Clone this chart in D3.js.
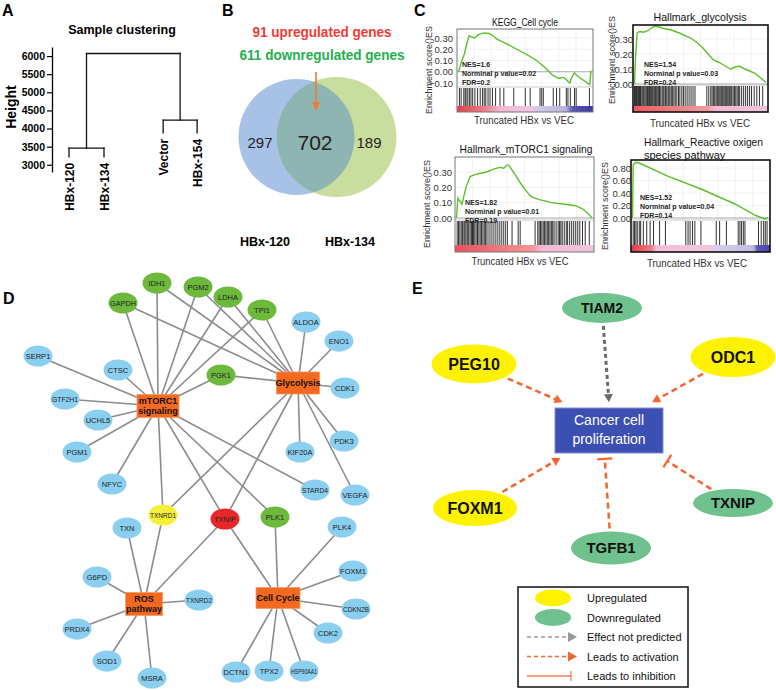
<!DOCTYPE html>
<html>
<head>
<meta charset="utf-8">
<script src="https://cdn.jsdelivr.net/npm/d3@7"></script>
<style>
body { margin: 0; background: #fff; }
svg { display: block; font-family: Arial, "Liberation Sans", sans-serif; }
</style>
</head>
<body>
<script>
var width = 776,
    height = 690;

// ---------- data ----------
// A : dendrogram
var leaves = ["HBx-120", "HBx-134", "Vector", "HBx-154"];
var leafPos = [0, 1, 2.69, 3.66];
var leafEnd = [3220, 3220, 3880, 3880];
var mergeLeft = 3460, mergeRight = 4230, mergeRoot = 6070;
var heightTicks = [3000, 3500, 4000, 4500, 5000, 5500, 6000];

// B : venn
var vennSets = ["HBx-120", "HBx-134"];
var vennCounts = [297, 702, 189];
var vennNotes = ["91 upregulated genes", "611 downregulated genes"];

// C : GSEA running enrichment score [rank fraction, ES]
var cellCycleES = [[0, 0], [0.02, 0.08], [0.045, 0.16], [0.065, 0.26], [0.08, 0.32], [0.1, 0.31], [0.12, 0.3], [0.15, 0.33], [0.19, 0.345], [0.23, 0.34], [0.26, 0.32], [0.29, 0.29], [0.36, 0.25], [0.44, 0.2], [0.52, 0.15], [0.59, 0.1], [0.65, 0.04], [0.71, -0.03], [0.74, -0.05], [0.76, -0.06], [0.78, -0.05], [0.8, -0.055], [0.84, -0.1], [0.855, -0.05], [0.875, -0.01], [0.9, -0.04], [0.99, -0.115], [1, 0.01]];
var glycolysisES = [[0, 0], [0.008, 0.18], [0.02, 0.34], [0.04, 0.35], [0.07, 0.345], [0.1, 0.355], [0.15, 0.385], [0.19, 0.38], [0.22, 0.37], [0.28, 0.36], [0.34, 0.34], [0.42, 0.31], [0.47, 0.28], [0.52, 0.24], [0.56, 0.2], [0.6, 0.16], [0.64, 0.145], [0.68, 0.125], [0.73, 0.1], [0.77, 0.115], [0.8, 0.118], [0.84, 0.1], [0.88, 0.085], [0.92, 0.07], [0.96, 0.04], [1, 0.01]];
var mtorES = [[0, 0], [0.01, 0.13], [0.04, 0.09], [0.07, 0.2], [0.1, 0.27], [0.14, 0.285], [0.17, 0.29], [0.22, 0.3], [0.28, 0.32], [0.32, 0.33], [0.35, 0.325], [0.37, 0.345], [0.385, 0.345], [0.42, 0.3], [0.47, 0.23], [0.52, 0.17], [0.55, 0.14], [0.61, 0.12], [0.66, 0.11], [0.7, 0.1], [0.8, 0.09], [0.88, 0.08], [0.93, 0.06], [0.97, 0.03], [1, 0]];
var rosES = [[0, 0], [0.005, 0.85], [0.025, 0.89], [0.05, 0.88], [0.26, 0.67], [0.51, 0.46], [0.76, 0.22], [0.91, 0.04], [0.98, -0.015], [1, 0.01]];

// hit positions (rank fraction)
var cellCycleHits = [0.007, 0.02, 0.04, 0.05, 0.057, 0.07, 0.082, 0.094, 0.107, 0.124, 0.144, 0.164, 0.181, 0.194, 0.206, 0.223, 0.238, 0.256, 0.28, 0.313, 0.342, 0.417, 0.504, 0.541, 0.615, 0.628, 0.64, 0.715, 0.74, 0.764, 0.814, 0.826, 0.844, 0.876, 0.888, 0.988];
var glycolysisHits = [0, 0.008, 0.015, 0.022, 0.03, 0.038, 0.045, 0.05, 0.058, 0.066, 0.072, 0.08, 0.088, 0.095, 0.1, 0.108, 0.115, 0.12, 0.128, 0.135, 0.142, 0.15, 0.158, 0.163, 0.17, 0.178, 0.185, 0.19, 0.2, 0.21, 0.218, 0.225, 0.235, 0.245, 0.255, 0.262, 0.27, 0.28, 0.29, 0.3, 0.31, 0.322, 0.335, 0.345, 0.36, 0.372, 0.385, 0.4, 0.415, 0.43, 0.445, 0.46, 0.55, 0.565, 0.58, 0.59, 0.6, 0.61, 0.62, 0.628, 0.635, 0.642, 0.65, 0.658, 0.665, 0.672, 0.68, 0.688, 0.695, 0.702, 0.71, 0.718, 0.725, 0.733, 0.74, 0.75, 0.76, 0.77, 0.78, 0.79, 0.8, 0.815, 0.83, 0.845, 0.86, 0.875, 0.89, 0.91, 0.93, 0.95, 0.975];
var mtorHits = [0.005, 0.015, 0.025, 0.035, 0.045, 0.055, 0.062, 0.07, 0.08, 0.09, 0.1, 0.11, 0.118, 0.125, 0.135, 0.145, 0.155, 0.165, 0.175, 0.185, 0.195, 0.205, 0.215, 0.225, 0.24, 0.255, 0.27, 0.285, 0.3, 0.315, 0.33, 0.345, 0.36, 0.375, 0.41, 0.455, 0.47, 0.58, 0.6, 0.61, 0.62, 0.63, 0.64, 0.65, 0.66, 0.67, 0.68, 0.69, 0.7, 0.71, 0.72, 0.735, 0.75, 0.76, 0.77, 0.78, 0.795, 0.81, 0.82, 0.835, 0.85, 0.865, 0.88, 0.895, 0.91, 0.93, 0.95, 0.98];
var rosHits = [0.005, 0.015, 0.025, 0.035, 0.05, 0.06, 0.08, 0.105, 0.13, 0.155, 0.2, 0.243, 0.393, 0.41, 0.425, 0.443, 0.46, 0.505, 0.618, 0.643, 0.693, 0.78, 0.793, 0.805, 0.818, 0.83, 0.93, 0.95, 0.968, 0.98, 0.993];

var gseaTitles = [["KEGG_Cell cycle"], ["Hallmark_glycolysis"], ["Hallmark_mTORC1 signaling"], ["Hallmark_Reactive oxigen", "species pathway"]];
var gseaStats = [
    ["NES=1.6", "Norminal p value=0.02", "FDR=0.2"],
    ["NES=1.54", "Norminal p value=0.03", "FDR=0.24"],
    ["NES=1.82", "Norminal p value=0.01", "FDR=0.19"],
    ["NES=1.52", "Norminal p value=0.04", "FDR=0.14"]
];
var gseaTicks = [[-0.1, 0, 0.1, 0.2, 0.3], [0, 0.1, 0.2, 0.3], [0, 0.1, 0.2, 0.3], [0, 0.2, 0.4, 0.6, 0.8]];

// D : network (layout units = px in panel frame)
var netNodes = [
    {id: "IDH1", kind: "down", x: 157, y: 3}, {id: "PGM2", kind: "down", x: 198, y: 7},
    {id: "GAPDH", kind: "down", x: 123, y: 23}, {id: "LDHA", kind: "down", x: 228, y: 17},
    {id: "TPI1", kind: "down", x: 262, y: 30}, {id: "ALDOA", kind: "other", x: 306, y: 42},
    {id: "ENO1", kind: "other", x: 339, y: 61}, {id: "SERP1", kind: "other", x: 38, y: 76},
    {id: "CTSC", kind: "other", x: 118, y: 90}, {id: "PGK1", kind: "down", x: 221, y: 95},
    {id: "Glycolysis", kind: "hub", x: 298, y: 103, w: 43, h: 22},
    {id: "CDK1", kind: "other", x: 345, y: 108}, {id: "GTF2H1", kind: "other", x: 65, y: 119},
    {id: "mTORC1\nsignaling", kind: "hub", x: 158, y: 126, w: 42, h: 23},
    {id: "UCHL5", kind: "other", x: 98, y: 140}, {id: "PDK3", kind: "other", x: 344, y: 161},
    {id: "KIF20A", kind: "other", x: 300, y: 172}, {id: "PGM1", kind: "other", x: 77, y: 172},
    {id: "NFYC", kind: "other", x: 112, y: 204}, {id: "STARD4", kind: "other", x: 315, y: 210},
    {id: "VEGFA", kind: "other", x: 355, y: 215}, {id: "TXNRD1", kind: "up", x: 163, y: 235},
    {id: "TXNIP", kind: "key", x: 225, y: 239}, {id: "PLK1", kind: "down", x: 275, y: 237},
    {id: "TXN", kind: "other", x: 127, y: 248}, {id: "PLK4", kind: "other", x: 342, y: 247},
    {id: "G6PD", kind: "other", x: 97, y: 297}, {id: "FOXM1", kind: "other", x: 353, y: 291},
    {id: "ROS\npathway", kind: "hub", x: 144, y: 324, w: 37, h: 23},
    {id: "TXNRD2", kind: "other", x: 199, y: 320},
    {id: "Cell Cycle", kind: "hub", x: 278, y: 318, w: 44, h: 21},
    {id: "CDKN2B", kind: "other", x: 356, y: 329}, {id: "PRDX4", kind: "other", x: 77, y: 349},
    {id: "CDK2", kind: "other", x: 328, y: 353}, {id: "SOD1", kind: "other", x: 107, y: 381},
    {id: "DCTN1", kind: "other", x: 236, y: 392}, {id: "TPX2", kind: "other", x: 269, y: 391},
    {id: "HSP90AA1", kind: "other", x: 304, y: 391}, {id: "MSRA", kind: "other", x: 152, y: 398}
];
var hubMembers = {
    "mTORC1\nsignaling": ["IDH1", "GAPDH", "PGM2", "LDHA", "TPI1", "PGK1", "SERP1", "CTSC", "GTF2H1", "UCHL5", "PGM1", "NFYC", "TXNRD1", "TXNIP", "PLK1", "STARD4"],
    "Glycolysis": ["GAPDH", "IDH1", "PGM2", "LDHA", "TPI1", "PGK1", "ALDOA", "ENO1", "CDK1", "PDK3", "KIF20A", "VEGFA", "TXNRD1", "TXNIP"],
    "ROS\npathway": ["TXN", "TXNRD1", "TXNIP", "G6PD", "TXNRD2", "PRDX4", "SOD1", "MSRA"],
    "Cell Cycle": ["TXNIP", "PLK1", "PLK4", "FOXM1", "CDKN2B", "CDK2", "DCTN1", "TPX2", "HSP90AA1"]
};

// E : regulation diagram
var eNodes = [
    {id: "TIAM2", kind: "down", x: 602, y: 308, rx: 40, ry: 15, size: 14},
    {id: "PEG10", kind: "up", x: 474, y: 364, rx: 42.5, ry: 19.5, size: 16},
    {id: "ODC1", kind: "up", x: 733, y: 357, rx: 42.5, ry: 20, size: 16},
    {id: "FOXM1", kind: "up", x: 475, y: 508, rx: 42, ry: 18, size: 16},
    {id: "TGFB1", kind: "down", x: 611, y: 548, rx: 40, ry: 16.5, size: 15},
    {id: "TXNIP", kind: "down", x: 733, y: 503, rx: 40, ry: 14, size: 15}
];
// effect on proliferation, with the aim point on the target box (fraction of box)
var eEdges = [
    {from: "TIAM2", effect: "unknown", aim: [0.5, -0.13]},
    {from: "PEG10", effect: "activation", aim: [0.07, -0.13]},
    {from: "ODC1", effect: "activation", aim: [0.9, -0.13]},
    {from: "FOXM1", effect: "activation", aim: [0.05, 1.11]},
    {from: "TGFB1", effect: "inhibition", aim: [0.46, 1.13]},
    {from: "TXNIP", effect: "inhibition", aim: [1.04, 1.18]}
];
var legendItems = [
    {label: "Upregulated", type: "up"},
    {label: "Downregulated", type: "down"},
    {label: "Effect not predicted", type: "unknown"},
    {label: "Leads to activation", type: "activation"},
    {label: "Leads to inhibition", type: "inhibition"}
];

// ---------- drawing ----------
var svg = d3.select("body").append("svg")
    .attr("width", width)
    .attr("height", height);
var defs = svg.append("defs");

// panel letters
[["A", 2, 16], ["B", 222, 16], ["C", 414, 16], ["D", 3, 304], ["E", 412, 294]].forEach(function (l) {
    svg.append("text").attr("x", l[1]).attr("y", l[2]).text(l[0])
        .style("font-size", "16px").style("font-weight", "bold");
});

// ===== A =====
var gA = svg.append("g");
var yA = d3.scaleLinear().domain([2800, 6250]).range([172, 47]);
var xA = d3.scaleLinear().domain([0, 1]).range([69, 104]);

gA.append("g")
    .attr("transform", "translate(52,0)")
    .call(d3.axisLeft(yA).tickValues(heightTicks).tickFormat(d3.format("d")).tickSize(5).tickSizeOuter(0))
    .call(function (g) {
        g.select(".domain").attr("stroke-width", 1.3);
        g.selectAll(".tick line").attr("stroke-width", 1.2);
        g.selectAll("text").style("font-size", "10.5px").style("font-weight", "bold")
            .style("font-family", "Arial, 'Liberation Sans', sans-serif").attr("x", -7);
    });

gA.append("text").attr("transform", "translate(16,107) rotate(-90)")
    .attr("text-anchor", "middle").text("Height")
    .style("font-size", "14px").style("font-weight", "bold");
gA.append("text").attr("x", 122).attr("y", 34).attr("text-anchor", "middle")
    .text("Sample clustering").style("font-size", "12.5px").style("font-weight", "bold");

var lx = leafPos.map(function (p) { return xA(p); });
var midL = (lx[0] + lx[1]) / 2, midR = (lx[2] + lx[3]) / 2;
var dendroSegs = [
    [lx[0], yA(leafEnd[0]), lx[0], yA(mergeLeft)], [lx[1], yA(leafEnd[1]), lx[1], yA(mergeLeft)],
    [lx[0], yA(mergeLeft), lx[1], yA(mergeLeft)],
    [lx[2], yA(leafEnd[2]), lx[2], yA(mergeRight)], [lx[3], yA(leafEnd[3]), lx[3], yA(mergeRight)],
    [lx[2], yA(mergeRight), lx[3], yA(mergeRight)],
    [midL, yA(mergeLeft), midL, yA(mergeRoot)], [midR, yA(mergeRight), midR, yA(mergeRoot)],
    [midL, yA(mergeRoot), midR, yA(mergeRoot)]
];
gA.selectAll("line.dendro").data(dendroSegs).join("line")
    .attr("x1", function (d) { return d[0]; }).attr("y1", function (d) { return d[1]; })
    .attr("x2", function (d) { return d[2]; }).attr("y2", function (d) { return d[3]; })
    .attr("stroke", "#111").attr("stroke-width", 1.3).attr("stroke-linecap", "square");

gA.selectAll("text.leaf").data(leaves).join("text")
    .attr("transform", function (d, i) {
        return "translate(" + (lx[i] + 4.5) + "," + (yA(leafEnd[i]) + 6) + ") rotate(-90)";
    })
    .attr("text-anchor", "end").text(function (d) { return d; })
    .style("font-size", "12px").style("font-weight", "bold");

// ===== B =====
var gB = svg.append("g");
var vennX = d3.scaleLinear().domain([0, 1]).range([296.5, 336.5]);
var vennY = 137, vennR = [58, 60];

gB.append("circle").attr("cx", vennX(0)).attr("cy", vennY).attr("r", vennR[0]).attr("fill", "#a8c2e7");
gB.append("circle").attr("cx", vennX(1)).attr("cy", vennY).attr("r", vennR[1]).attr("fill", "#c9dd9e");
defs.append("clipPath").attr("id", "leftClip")
    .append("circle").attr("cx", vennX(0)).attr("cy", vennY).attr("r", vennR[0]);
gB.append("circle").attr("cx", vennX(1)).attr("cy", vennY).attr("r", vennR[1])
    .attr("clip-path", "url(#leftClip)").attr("fill", "#8fb5b2");

gB.append("text").attr("x", 260).attr("y", 148).attr("text-anchor", "middle")
    .text(vennCounts[0]).style("font-size", "15px").attr("fill", "#222");
gB.append("text").attr("x", 315).attr("y", 150).attr("text-anchor", "middle")
    .text(vennCounts[1]).style("font-size", "21px").attr("fill", "#222");
gB.append("text").attr("x", 369).attr("y", 148).attr("text-anchor", "middle")
    .text(vennCounts[2]).style("font-size", "15px").attr("fill", "#222");

gB.selectAll("text.note").data(vennNotes).join("text")
    .attr("x", 322).attr("y", function (d, i) { return 37 + i * 23; })
    .attr("text-anchor", "middle").text(function (d) { return d; })
    .attr("fill", function (d, i) { return i === 0 ? "#ee3b33" : "#24b04f"; })
    .style("font-size", "14px").style("font-weight", "bold")
    .attr("textLength", function (d, i) { return i === 0 ? 139 : 165; })
    .attr("lengthAdjust", "spacingAndGlyphs");

gB.append("line").attr("x1", 316).attr("y1", 72).attr("x2", 316).attr("y2", 103)
    .attr("stroke", "#f07b32").attr("stroke-width", 1.6);
gB.append("polygon").attr("points", "312,102 320,102 316,111").attr("fill", "#f07b32");

gB.selectAll("text.set").data(vennSets).join("text")
    .attr("x", function (d, i) { return i === 0 ? 265 : 350; }).attr("y", 246)
    .attr("text-anchor", "middle").text(function (d) { return d; })
    .style("font-size", "12.5px").style("font-weight", "bold");

// ===== C : GSEA =====
var gseaLayout = [
    {x0: 457, x1: 593, y0: 29, esB: 87, hitB: 106, y1: 112, rng: [83, 38], dom: [-0.1, 0.3], border: "#777", bw: 1,
     titleX: 525, titleY: [26], titleSize: 10, titleW: 66, anchor: "middle",
     tickX: 453, ylabX: 432, ylabY: 70, statX: 462, statY: 67, xlabX: 524, xlabY: 124, xlabW: 100},
    {x0: 633, x1: 768, y0: 25, esB: 85, hitB: 106, y1: 112, rng: [84, 39], dom: [0, 0.3], border: "#111", bw: 1.6,
     titleX: 700, titleY: [21], titleSize: 11, titleW: 93, anchor: "middle",
     tickX: 633, ylabX: 615, ylabY: 60, statX: 644, statY: 67, xlabX: 700, xlabY: 127, xlabW: 100},
    {x0: 455, x1: 594, y0: 157, esB: 220, hitB: 245, y1: 252, rng: [218, 172], dom: [0, 0.3], border: "#777", bw: 1,
     titleX: 526, titleY: [153], titleSize: 11, titleW: 133, anchor: "middle",
     tickX: 452, ylabX: 430, ylabY: 204, statX: 465, statY: 205, xlabX: 520, xlabY: 265, xlabW: 97},
    {x0: 631, x1: 770, y0: 160, esB: 220, hitB: 245, y1: 252, rng: [218, 168], dom: [0, 0.8], border: "#111", bw: 1.6,
     titleX: 644, titleY: [146, 159], titleSize: 11, titleW: 119, anchor: "start",
     tickX: 631, ylabX: 608, ylabY: 206, statX: 640, statY: 200, xlabX: 697, xlabY: 267, xlabW: 100}
];
var gseaCurves = [cellCycleES, glycolysisES, mtorES, rosES];
var gseaHits = [cellCycleHits, glycolysisHits, mtorHits, rosHits];
var gseaBands = [
    [[0, "#e63f47"], [0.2, "#ef7d88"], [0.32, "#f3b7d2"], [0.55, "#eec6df"], [0.6, "#cfcbe8"], [0.8, "#b7b3dc"], [0.85, "#5a57b3"], [1, "#3a38a0"]],
    [[0, "#ef5a5e"], [0.55, "#f49a9c"], [0.62, "#f3b8d4"], [1, "#f0c2dc"]],
    [[0, "#ea5058"], [0.55, "#f39596"], [0.63, "#f3b9d6"], [1, "#f0c4dd"]],
    [[0, "#e53741"], [0.15, "#ef7f8a"], [0.18, "#f4bdd8"], [0.58, "#f0c6df"], [0.62, "#d2cfea"], [0.88, "#bebbe1"], [0.91, "#5b59b5"], [1, "#4644a8"]]
];

gseaLayout.forEach(function (p, k) {
    var g = svg.append("g");
    var x = d3.scaleLinear().domain([0, 1]).range([p.x0 + 1.5, p.x1 - 2]);
    var y = d3.scaleLinear().domain(p.dom).range(p.rng);

    // faint grid
    g.selectAll("line.vg").data(d3.range(1, 8)).join("line")
        .attr("x1", function (d) { return p.x0 + d * (p.x1 - p.x0) / 8; })
        .attr("x2", function (d) { return p.x0 + d * (p.x1 - p.x0) / 8; })
        .attr("y1", p.y0).attr("y2", p.esB).attr("stroke", "#ededed").attr("stroke-width", 0.8);
    g.selectAll("line.hg").data(gseaTicks[k]).join("line")
        .attr("x1", p.x0).attr("x2", p.x1)
        .attr("y1", function (d) { return y(d); }).attr("y2", function (d) { return y(d); })
        .attr("stroke", function (d) { return d === 0 ? "#a8a8a8" : "#ededed"; })
        .attr("stroke-width", function (d) { return d === 0 ? 1 : 0.8; });

    // hits
    g.selectAll("line.hit").data(gseaHits[k]).join("line")
        .attr("x1", function (d) { return x(d); }).attr("x2", function (d) { return x(d); })
        .attr("y1", p.esB + 1).attr("y2", p.hitB)
        .attr("stroke", "#1a1a1a").attr("stroke-width", 0.9);
    g.append("line").attr("x1", p.x0).attr("x2", p.x1).attr("y1", p.esB).attr("y2", p.esB)
        .attr("stroke", "#bbb").attr("stroke-width", 0.8);

    // ranked list band
    var grad = defs.append("linearGradient").attr("id", "band" + k);
    grad.selectAll("stop").data(gseaBands[k]).join("stop")
        .attr("offset", function (d) { return d[0]; }).attr("stop-color", function (d) { return d[1]; });
    g.append("rect").attr("x", p.x0).attr("y", p.hitB).attr("width", p.x1 - p.x0).attr("height", p.y1 - p.hitB)
        .attr("fill", "url(#band" + k + ")");

    // enrichment curve
    g.append("path").datum(gseaCurves[k])
        .attr("d", d3.line().x(function (d) { return x(d[0]); }).y(function (d) { return y(d[1]); }))
        .attr("fill", "none").attr("stroke", "#5cc02e").attr("stroke-width", 1.4);

    g.append("rect").attr("x", p.x0).attr("y", p.y0).attr("width", p.x1 - p.x0).attr("height", p.y1 - p.y0)
        .attr("fill", "none").attr("stroke", p.border).attr("stroke-width", p.bw);

    // tick labels
    g.selectAll("text.tk").data(gseaTicks[k]).join("text")
        .attr("x", p.tickX).attr("y", function (d) { return y(d) + 3.5; })
        .attr("text-anchor", "end").text(d3.format(".2f"))
        .style("font-size", "9.5px").attr("fill", "#333");

    g.append("text").attr("transform", "translate(" + p.ylabX + "," + p.ylabY + ") rotate(-90)")
        .attr("text-anchor", "middle").text("Enrichment score()ES")
        .style("font-size", "9px").attr("fill", "#333");

    g.selectAll("text.ttl").data(gseaTitles[k]).join("text")
        .attr("x", p.titleX).attr("y", function (d, i) { return p.titleY[i]; })
        .attr("text-anchor", p.anchor).text(function (d) { return d; })
        .style("font-size", p.titleSize + "px").attr("fill", "#111")
        .attr("textLength", function (d, i) { return i === 0 ? p.titleW : null; })
        .attr("lengthAdjust", "spacingAndGlyphs");

    g.selectAll("text.st").data(gseaStats[k]).join("text")
        .attr("x", p.statX).attr("y", function (d, i) { return p.statY + i * 9; })
        .text(function (d) { return d; })
        .style("font-size", "7px").style("font-weight", "bold").attr("fill", "#222");

    g.append("text").attr("x", p.xlabX).attr("y", p.xlabY).attr("text-anchor", "middle")
        .text("Truncated HBx vs VEC").style("font-size", "11.5px").attr("fill", "#333")
        .attr("textLength", p.xlabW).attr("lengthAdjust", "spacingAndGlyphs");
});

// ===== D : network =====
var gD = svg.append("g");
var xD = d3.scaleLinear().domain([0, 400]).range([0, 400]);
var yD = d3.scaleLinear().domain([0, 410]).range([280, 690]);
var nodeColor = {other: "#8acef0", down: "#6cb93c", up: "#f5ef3a", key: "#e8272b", hub: "#f2691f"};
var byId = {};
netNodes.forEach(function (n) { byId[n.id] = n; });

var netEdges = [];
Object.keys(hubMembers).forEach(function (h) {
    hubMembers[h].forEach(function (m) { netEdges.push({s: byId[h], t: byId[m]}); });
});

gD.selectAll("line.edge").data(netEdges).join("line")
    .attr("x1", function (d) { return xD(d.s.x); }).attr("y1", function (d) { return yD(d.s.y); })
    .attr("x2", function (d) { return xD(d.t.x); }).attr("y2", function (d) { return yD(d.t.y); })
    .attr("stroke", "#8c8c8c").attr("stroke-width", 1.6);

var genes = gD.selectAll("g.gene").data(netNodes.filter(function (n) { return n.kind !== "hub"; })).join("g")
    .attr("transform", function (d) { return "translate(" + xD(d.x) + "," + yD(d.y) + ")"; });
genes.append("ellipse").attr("rx", 14.5).attr("ry", 10.5)
    .attr("fill", function (d) { return nodeColor[d.kind]; });
genes.append("text").attr("text-anchor", "middle").attr("y", 2.6)
    .text(function (d) { return d.id; })
    .style("font-size", "7.5px").attr("fill", "#222")
    .each(function () {
        if (this.getComputedTextLength() > 26) {
            d3.select(this).attr("textLength", 26).attr("lengthAdjust", "spacingAndGlyphs");
        }
    });

var hubs = gD.selectAll("g.hub").data(netNodes.filter(function (n) { return n.kind === "hub"; })).join("g")
    .attr("transform", function (d) { return "translate(" + xD(d.x) + "," + yD(d.y) + ")"; });
hubs.append("rect")
    .attr("x", function (d) { return -d.w / 2; }).attr("y", function (d) { return -d.h / 2; })
    .attr("width", function (d) { return d.w; }).attr("height", function (d) { return d.h; })
    .attr("fill", nodeColor.hub).attr("stroke", "#f79a62").attr("stroke-width", 0.8);
hubs.each(function (d) {
    var lines = d.id.split("\n");
    d3.select(this).selectAll("text").data(lines).join("text")
        .attr("text-anchor", "middle")
        .attr("y", function (t, i) { return (i - (lines.length - 1) / 2) * 10 + 3.3; })
        .text(function (t) { return t; })
        .style("font-size", "9px").style("font-weight", "bold").attr("fill", "#111");
});

// ===== E : regulation =====
var gE = svg.append("g");
var orange = "#f4652f", grayArrow = "#6b6b6b";
var eColor = {up: "#fff200", down: "#6fc18d"};
var box = {x: 555, y: 408, w: 108, h: 45};

function ellipseEdge(n, tx, ty) {
    var dx = tx - n.x, dy = ty - n.y;
    var s = 1 / Math.sqrt(dx * dx / (n.rx * n.rx) + dy * dy / (n.ry * n.ry));
    return [n.x + dx * s, n.y + dy * s];
}
function head(g, x1, y1, x2, y2, color, len, half) {
    var a = Math.atan2(y2 - y1, x2 - x1), c = Math.cos(a), s = Math.sin(a);
    var pts = [[x2, y2], [x2 - len * c + half * s, y2 - len * s - half * c], [x2 - len * c - half * s, y2 - len * s + half * c]];
    g.append("polygon").attr("points", pts.join(" ")).attr("fill", color);
}
function tbar(g, x1, y1, x2, y2, color, half) {
    var a = Math.atan2(y2 - y1, x2 - x1), c = Math.cos(a), s = Math.sin(a);
    g.append("line").attr("x1", x2 + half * s).attr("y1", y2 - half * c)
        .attr("x2", x2 - half * s).attr("y2", y2 + half * c)
        .attr("stroke", color).attr("stroke-width", 2.2);
}

var eById = {};
eNodes.forEach(function (n) { eById[n.id] = n; });
eEdges.forEach(function (e) {
    var n = eById[e.from];
    var tx = box.x + e.aim[0] * box.w, ty = box.y + e.aim[1] * box.h;
    var st = ellipseEdge(n, tx, ty);
    var a = Math.atan2(ty - st[1], tx - st[0]);
    var sx = st[0] + 3 * Math.cos(a), sy = st[1] + 3 * Math.sin(a);
    var color = e.effect === "unknown" ? grayArrow : orange;
    var back = e.effect === "inhibition" ? 0 : 7;
    gE.append("line").attr("x1", sx).attr("y1", sy)
        .attr("x2", tx - back * Math.cos(a)).attr("y2", ty - back * Math.sin(a))
        .attr("stroke", color).attr("stroke-width", e.effect === "unknown" ? 3 : 2.5)
        .attr("stroke-dasharray", e.effect === "unknown" ? "4,3" : "6,4");
    if (e.effect === "inhibition") tbar(gE, sx, sy, tx, ty, orange, 7.5);
    else head(gE, sx, sy, tx, ty, color, 8, 4.5);
});

gE.append("rect").attr("x", box.x).attr("y", box.y).attr("width", box.w).attr("height", box.h)
    .attr("fill", "#3c4fb2").attr("stroke", "#7f8fd6").attr("stroke-width", 1);
gE.selectAll("text.box").data(["Cancer cell", "proliferation"]).join("text")
    .attr("x", box.x + box.w / 2).attr("y", function (d, i) { return 425 + i * 19; })
    .attr("text-anchor", "middle").text(function (d) { return d; })
    .style("font-size", "14px").attr("fill", "#fff");

var eG = gE.selectAll("g.enode").data(eNodes).join("g")
    .attr("transform", function (d) { return "translate(" + d.x + "," + d.y + ")"; });
eG.append("ellipse").attr("rx", function (d) { return d.rx; }).attr("ry", function (d) { return d.ry; })
    .attr("fill", function (d) { return eColor[d.kind]; });
eG.append("text").attr("text-anchor", "middle")
    .attr("y", function (d) { return d.size * 0.36; })
    .text(function (d) { return d.id; })
    .style("font-size", function (d) { return d.size + "px"; })
    .style("font-weight", "bold").attr("fill", "#111");

// legend
var lg = gE.append("g");
lg.append("rect").attr("x", 518).attr("y", 587).attr("width", 170).attr("height", 100)
    .attr("fill", "#fff").attr("stroke", "#111").attr("stroke-width", 1.5);
var ly = d3.scalePoint().domain(legendItems.map(function (d) { return d.label; })).range([598, 676]);
legendItems.forEach(function (it) {
    var yy = ly(it.label);
    if (it.type === "up" || it.type === "down") {
        lg.append("ellipse").attr("cx", 553).attr("cy", yy).attr("rx", 18).attr("ry", 8.5)
            .attr("fill", eColor[it.type]);
    } else if (it.type === "inhibition") {
        lg.append("line").attr("x1", 527).attr("x2", 571).attr("y1", yy).attr("y2", yy)
            .attr("stroke", "#f27b5c").attr("stroke-width", 1.3);
        lg.append("line").attr("x1", 571).attr("x2", 571).attr("y1", yy - 5).attr("y2", yy + 5)
            .attr("stroke", "#f27b5c").attr("stroke-width", 1.3);
    } else {
        var c = it.type === "unknown" ? "#999" : orange;
        lg.append("line").attr("x1", 527).attr("x2", 566).attr("y1", yy).attr("y2", yy)
            .attr("stroke", c).attr("stroke-width", 1.3).attr("stroke-dasharray", "4,3");
        head(lg, 527, yy, 577, yy, c, 9, 5);
    }
    lg.append("text").attr("x", 587).attr("y", yy + 4).text(it.label)
        .style("font-size", "11px").attr("fill", "#111");
});
</script>
</body>
</html>
